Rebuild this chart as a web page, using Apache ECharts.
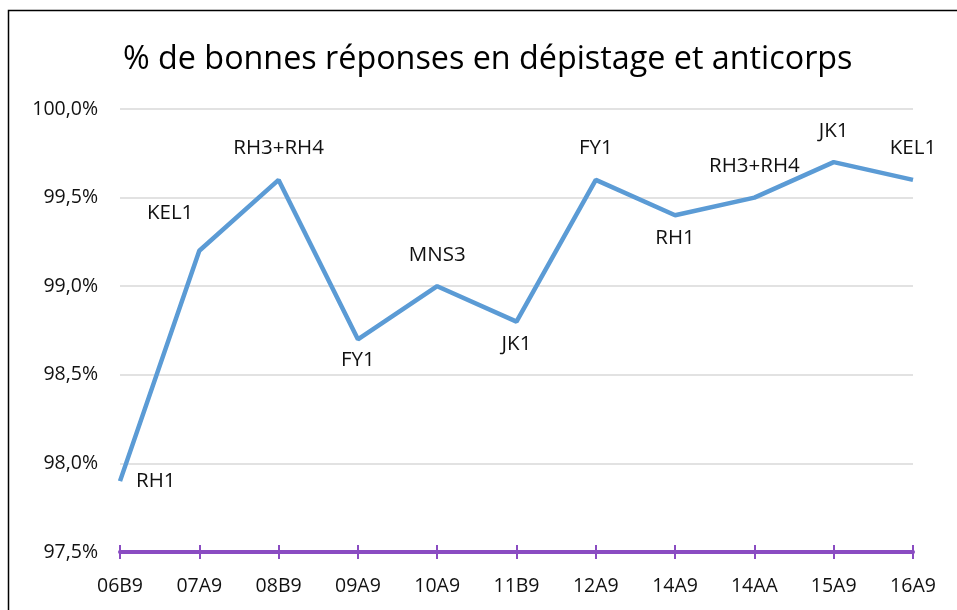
<!DOCTYPE html>
<html>
<head>
<meta charset="utf-8">
<script src="https://cdn.jsdelivr.net/npm/echarts@6/dist/echarts.min.js"></script>
<style>
  html, body { margin: 0; padding: 0; background: #fff; }
  #chart { width: 957px; height: 610px; }
</style>
</head>
<body>
<div id="chart"></div>
<script>
const categories = ["06B9", "07A9", "08B9", "09A9", "10A9", "11B9", "12A9", "14A9", "14AA", "15A9", "16A9"];
const values = [97.9, 99.2, 99.6, 98.7, 99.0, 98.8, 99.6, 99.4, 99.5, 99.7, 99.6];
const pointLabels = ["RH1", "KEL1", "RH3+RH4", "FY1", "MNS3", "JK1", "FY1", "RH1", "RH3+RH4", "JK1", "KEL1"];
// placement of each point label (around its point)
const labelPlaces = [
  { position: "right", offset: [8, 0] },
  { position: "left", offset: [2, -38] },
  { position: "top", offset: [0, -13] },
  { position: "bottom", offset: [0, 2] },
  { position: "top", offset: [0, -13] },
  { position: "bottom", offset: [0, 4] },
  { position: "top", offset: [0, -13] },
  { position: "bottom", offset: [0, 4] },
  { position: "top", offset: [0, -13] },
  { position: "top", offset: [0, -13] },
  { position: "top", offset: [0, -13] },
];

let chartDom = document.getElementById("chart");
let myChart = echarts.init(chartDom);
const font = "'Open Sans', 'Noto Sans', sans-serif";
const purple = "#8a4cc2";

let seriesData = values.map((v, i) => ({
  value: v,
  label: {
    show: true,
    formatter: pointLabels[i],
    position: labelPlaces[i].position,
    offset: labelPlaces[i].offset,
    distance: 8,
    color: "#111",
    fontSize: 20.5,
    fontFamily: font,
  },
}));

let option = {
  backgroundColor: "#fff",
  animation: false,
  title: {
    text: "% de bonnes réponses en dépistage et anticorps",
    left: 118,
    top: 39,
    textStyle: { fontSize: 32.3, fontWeight: "normal", color: "#000", fontFamily: font },
  },
  graphic: [
    {
      type: "rect",
      shape: { x: 8.5, y: 10.5, width: 1000, height: 700 },
      style: { fill: null, stroke: "#000", lineWidth: 1.5 },
      silent: true,
    },
  ],
  grid: { left: 120, right: 44, top: 109, bottom: 58 },
  xAxis: [
    {
      type: "category",
      data: categories,
      boundaryGap: false,
      axisLine: { show: true, lineStyle: { color: purple, width: 4 } },
      axisTick: { show: true, length: 7, lineStyle: { color: purple, width: 2 } },
      axisLabel: { color: "#111", fontSize: 19.5, fontFamily: font, margin: 24 },
      splitLine: { show: false },
    },
    {
      type: "category",
      data: categories,
      boundaryGap: false,
      position: "bottom",
      axisLine: { show: false },
      axisTick: { show: true, inside: true, length: 7, lineStyle: { color: purple, width: 2 } },
      axisLabel: { show: false },
    },
  ],
  yAxis: {
    type: "value",
    min: 97.5,
    max: 100,
    interval: 0.5,
    axisLine: { show: false },
    axisTick: { show: false },
    axisLabel: {
      color: "#111",
      fontSize: 19.5,
      fontFamily: font,
      margin: 22,
      formatter: (v) => v.toFixed(1).replace(".", ",") + "%",
    },
    splitLine: { lineStyle: { color: "#d9d9d9", width: 1.5 } },
  },
  series: [
    {
      type: "line",
      data: seriesData,
      showSymbol: true,
      symbol: "circle",
      symbolSize: 0,
      lineStyle: { color: "#5b9bd5", width: 4.5 },
      itemStyle: { color: "#5b9bd5" },
      z: 3,
    },
  ],
};

option && myChart.setOption(option);
</script>
</body>
</html>
